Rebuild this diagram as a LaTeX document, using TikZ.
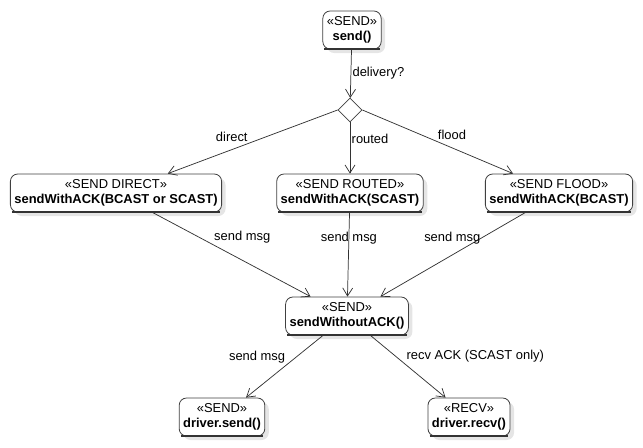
\documentclass[tikz,border=0pt]{standalone}
\usepackage{fontspec}
\setmainfont{Liberation Sans}
\usetikzlibrary{arrows.meta,shapes.geometric,shadows}

\begin{document}
\begin{tikzpicture}[x=0.75pt,y=-0.75pt,font=\fontsize{9.7}{11.4}\selectfont,
  act/.style={draw=black!75,line width=0.6pt,rounded corners=5.5pt,fill=white,align=center,
    inner xsep=3pt,inner ysep=2pt,minimum height=28.5pt,
    drop shadow={shadow xshift=3pt,shadow yshift=-3pt,fill=black!10,opacity=1}},
  choice/.style={draw=black!75,line width=0.6pt,diamond,fill=white,minimum width=18pt,minimum height=18pt,inner sep=0pt},
  flow/.style={draw=black!80,line width=0.55pt,-{Straight Barb[length=6pt,width=7.5pt]}},
  lbl/.style={inner sep=1pt,font=\fontsize{9.7}{11}\selectfont}]
\useasboundingbox (0,0) rectangle (643,447);
\node[act] (send) at (352,30) {«SEND»\\\textbf{send()}};
\node[choice] (dia) at (350,110) {};
\node[act] (direct) at (116,193) {«SEND DIRECT»\\\textbf{sendWithACK(BCAST or SCAST)}};
\node[act] (routed) at (350,193) {«SEND ROUTED»\\\textbf{sendWithACK(SCAST)}};
\node[act] (flood) at (559,193) {«SEND FLOOD»\\\textbf{sendWithACK(BCAST)}};
\node[act] (noack) at (347,316) {«SEND»\\\textbf{sendWithoutACK()}};
\node[act] (dsend) at (222,417) {«SEND»\\\textbf{driver.send()}};
\node[act] (drecv) at (469,417) {«RECV»\\\textbf{driver.recv()}};
\foreach \n in {send,direct,routed,flood,noack,dsend,drecv}
  \draw[black!80,line width=1.6pt] ([xshift=1.5pt]\n.south west) -- ([xshift=-1.5pt]\n.south east);
\draw[flow] (send) -- node[lbl,pos=0.5,anchor=west] {delivery?} (dia);
\draw[flow] (dia.west) -- node[lbl,pos=0.52,anchor=south east] {direct} (direct);
\draw[flow] (dia.south) -- node[lbl,pos=0.32,anchor=west] {routed} (routed);
\draw[flow] (dia.east) -- node[lbl,pos=0.49,anchor=south west] {flood} (flood);
\draw[flow] (direct) -- node[lbl,pos=0.38,anchor=south west] {send msg} (noack);
\draw[flow] (routed) -- node[lbl,pos=0.3] {send msg} (noack);
\draw[flow] (flood) -- node[lbl,pos=0.3,anchor=east] {send msg} (noack);
\draw[flow] (noack) -- node[lbl,pos=0.47,anchor=south east] {send msg} (dsend);
\draw[flow] (noack) -- node[lbl,pos=0.46,anchor=south west] {recv ACK (SCAST only)} (drecv);
\end{tikzpicture}
\end{document}
